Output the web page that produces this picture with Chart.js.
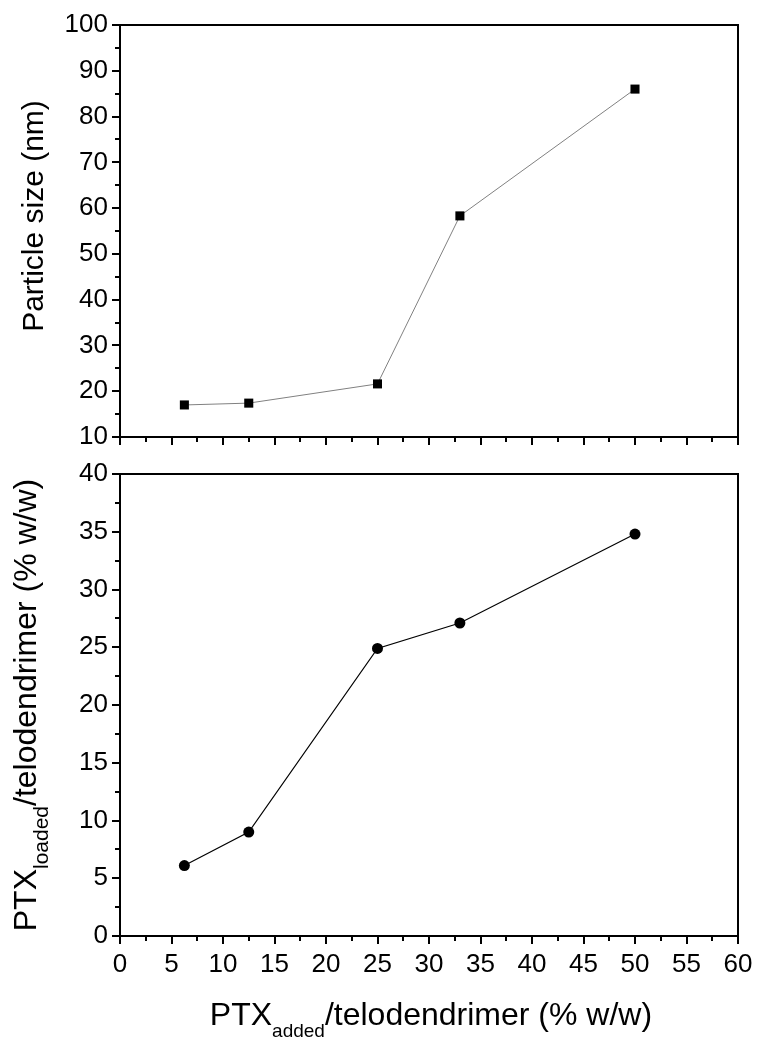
<!DOCTYPE html>
<html lang="en">
<head>
  <meta charset="UTF-8">
  <title>Particle size and PTX loading</title>
  <style>
    * { margin: 0; padding: 0; box-sizing: border-box; }
    body { background: #ffffff; width: 763px; height: 1050px; position: relative; overflow: hidden; }
    canvas { position: absolute; left: 0; display: block; }
    #sizeChart { top: 0; }
    #loadChart { top: 440px; }
  </style>
  <script src="https://cdn.jsdelivr.net/npm/chart.js@4.4.1/dist/chart.umd.min.js"></script>
</head>
<body>
  <canvas id="sizeChart" width="763" height="470"></canvas>
  <canvas id="loadChart" width="763" height="610"></canvas>

  <script>
    // data
    const ptxAdded = [6.25, 12.5, 25, 33, 50];
    const particleSize = [17.0, 17.4, 21.6, 58.3, 86.0];
    const ptxLoaded = [6.1, 9.0, 24.9, 27.1, 34.8];

    const xTicks = { min: 0, max: 60, step: 5 };
    const sizeTicks = { min: 10, max: 100, step: 10 };
    const loadTicks = { min: 0, max: 40, step: 5 };

    const FONT = "'Liberation Sans', Arial, sans-serif";

    function toPoints(xs, ys) {
      return xs.map((x, i) => ({ x: x, y: ys[i] }));
    }

    // text with subscripts, drawn centred on (cx, cy) baseline
    function drawRich(ctx, segs, cx, cy, rotate) {
      ctx.save();
      ctx.translate(cx, cy);
      if (rotate) ctx.rotate(-Math.PI / 2);
      ctx.fillStyle = '#000';
      ctx.textAlign = 'left';
      ctx.textBaseline = 'alphabetic';
      let total = 0;
      segs.forEach(s => { ctx.font = s.size + 'px ' + FONT; s.w = ctx.measureText(s.text).width; total += s.w; });
      let pos = -total / 2;
      segs.forEach(s => {
        ctx.font = s.size + 'px ' + FONT;
        ctx.fillText(s.text, pos, s.dy || 0);
        pos += s.w;
      });
      ctx.restore();
    }

    // frame, outer ticks (major + minor) and axis titles
    const frameAndTicks = {
      id: 'frameAndTicks',
      afterDraw(chart, args, opts) {
        const { ctx, chartArea: a, scales: { x, y } } = chart;
        ctx.save();
        ctx.strokeStyle = '#000';
        ctx.lineWidth = 2;
        ctx.strokeRect(a.left, a.top, a.right - a.left, a.bottom - a.top);

        ctx.beginPath();
        const n = Math.round((x.max - x.min) / opts.xMinor);
        for (let i = 0; i <= n; i++) {
          const v = x.min + i * opts.xMinor;
          const len = (i % 2 === 0) ? 8 : 5;
          const px = Math.round(x.getPixelForValue(v));
          ctx.moveTo(px, a.bottom);
          ctx.lineTo(px, a.bottom + len);
        }
        const m = Math.round((y.max - y.min) / opts.yMinor);
        for (let i = 0; i <= m; i++) {
          const v = y.min + i * opts.yMinor;
          const len = (i % 2 === 0) ? 8 : 5;
          const py = Math.round(y.getPixelForValue(v));
          ctx.moveTo(a.left, py);
          ctx.lineTo(a.left - len, py);
        }
        ctx.stroke();
        ctx.restore();

        if (opts.yTitle) drawRich(ctx, opts.yTitle.segs, opts.yTitle.x, opts.yTitle.y, true);
        if (opts.xTitle) drawRich(ctx, opts.xTitle.segs, opts.xTitle.x, opts.xTitle.y, false);
      }
    };

    function fixSize(prop, v) {
      return function (scale) {
        scale[prop] = v;
        scale.paddingTop = 0; scale.paddingBottom = 0;
        scale.paddingLeft = 0; scale.paddingRight = 0;
      };
    }

    function xScale(showLabels, height) {
      return {
        type: 'linear',
        min: xTicks.min,
        max: xTicks.max,
        grid: { display: false, drawTicks: false },
        border: { display: false },
        ticks: {
          display: showLabels,
          stepSize: xTicks.step,
          padding: 13,
          color: '#000',
          font: { family: FONT, size: 26 }
        },
        afterFit: fixSize('height', height)
      };
    }

    function yScale(t) {
      return {
        type: 'linear',
        min: t.min,
        max: t.max,
        grid: { display: false, drawTicks: false },
        border: { display: false },
        ticks: {
          stepSize: t.step,
          padding: 12,
          color: '#000',
          font: { family: FONT, size: 26 }
        },
        afterFit: fixSize('width', 120)
      };
    }

    Chart.register(frameAndTicks);

    new Chart(document.getElementById('sizeChart'), {
      type: 'scatter',
      data: {
        datasets: [{
          data: toPoints(ptxAdded, particleSize),
          showLine: true,
          borderColor: '#808080',
          borderWidth: 1,
          pointStyle: 'rect',
          pointRadius: 6.4,
          pointBackgroundColor: '#000',
          pointBorderColor: '#000',
          pointBorderWidth: 0
        }]
      },
      options: {
        responsive: false,
        animation: false,
        devicePixelRatio: 1,
        layout: { padding: { top: 25, right: 25, left: 0, bottom: 0 } },
        scales: { x: xScale(false, 33), y: yScale(sizeTicks) },
        plugins: {
          legend: { display: false },
          tooltip: { enabled: false },
          frameAndTicks: {
            xMinor: 2.5, yMinor: 5,
            yTitle: { x: 43, y: 216, segs: [{ text: 'Particle size (nm)', size: 30 }] }
          }
        }
      }
    });

    new Chart(document.getElementById('loadChart'), {
      type: 'scatter',
      data: {
        datasets: [{
          data: toPoints(ptxAdded, ptxLoaded),
          showLine: true,
          borderColor: '#000',
          borderWidth: 1.2,
          pointStyle: 'circle',
          pointRadius: 5.5,
          pointBackgroundColor: '#000',
          pointBorderColor: '#000',
          pointBorderWidth: 0
        }]
      },
      options: {
        responsive: false,
        animation: false,
        devicePixelRatio: 1,
        layout: { padding: { top: 34, right: 25, left: 0, bottom: 0 } },
        scales: { x: xScale(true, 114), y: yScale(loadTicks) },
        plugins: {
          legend: { display: false },
          tooltip: { enabled: false },
          frameAndTicks: {
            xMinor: 2.5, yMinor: 2.5,
            yTitle: {
              x: 36, y: 265,
              segs: [
                { text: 'PTX', size: 32 },
                { text: 'loaded', size: 21, dy: 12 },
                { text: '/telodendrimer (% w/w)', size: 32 }
              ]
            },
            xTitle: {
              x: 431, y: 585,
              segs: [
                { text: 'PTX', size: 32 },
                { text: 'added', size: 19, dy: 12 },
                { text: '/telodendrimer (% w/w)', size: 32 }
              ]
            }
          }
        }
      }
    });
  </script>
</body>
</html>
